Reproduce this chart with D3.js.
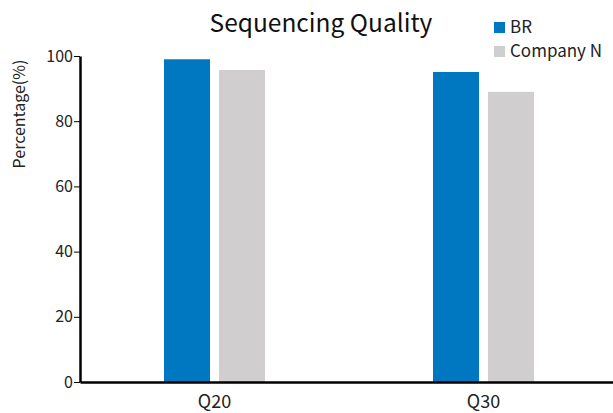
<!DOCTYPE html>
<html>
<head>
<meta charset="utf-8">
<script src="https://cdn.jsdelivr.net/npm/d3@7"></script>
<style>
  html, body { margin: 0; padding: 0; background: #fff; }
  svg { display: block; font-family: "Noto Sans CJK SC", "Noto Sans", sans-serif; }
</style>
</head>
<body>
<svg id="chart" width="613" height="413"></svg>
<script>
const categories = ["Q20", "Q30"];
const seriesNames = ["BR", "Company N"];
const brValues = [99.0, 95.1];
const companyNValues = [95.7, 89.0];
const yTicks = [0, 20, 40, 60, 80, 100];
const colors = ["#0077C1", "#D0CECE"];

const FONT = "'Noto Sans CJK SC', 'Noto Sans', sans-serif";
const svg = d3.select("#chart");

const x = d3.scaleBand().domain(categories).range([80, 618]).paddingInner(0);
const y = d3.scaleLinear().domain([0, 100]).range([382, 56]);

const barW = 46, gap = 9;
const series = [brValues, companyNValues];

// bars, one group per series
series.forEach((vals, si) => {
  svg.append("g")
    .selectAll("rect")
    .data(categories)
    .join("rect")
    .attr("x", d => x(d) + x.bandwidth() / 2 + (si === 0 ? -(barW + gap / 2) : gap / 2))
    .attr("y", (d, i) => y(vals[i]))
    .attr("width", barW)
    .attr("height", (d, i) => y(0) - y(vals[i]))
    .attr("fill", colors[si]);
});

// y axis
const yAxis = svg.append("g")
  .attr("transform", "translate(80,0)")
  .call(d3.axisLeft(y).tickValues(yTicks).tickSize(6).tickSizeOuter(0));
yAxis.select(".domain").attr("stroke", "#000").attr("stroke-width", 2.5);
yAxis.selectAll(".tick line").attr("stroke", "#000").attr("stroke-width", 1);
yAxis.selectAll(".tick text")
  .attr("x", -7)
  .attr("font-size", 16)
  .attr("fill", "#222")
  .style("font-family", FONT);

// x axis
const xAxis = svg.append("g")
  .attr("transform", "translate(0,382)")
  .call(d3.axisBottom(x).tickSize(0).tickSizeOuter(0));
xAxis.select(".domain").attr("stroke", "#000").attr("stroke-width", 2.5);
xAxis.selectAll(".tick text")
  .attr("y", 13)
  .attr("font-size", 18)
  .attr("fill", "#222")
  .style("font-family", FONT);

// y axis title
svg.append("text")
  .attr("transform", "translate(25,114) rotate(-90)")
  .attr("text-anchor", "middle")
  .attr("font-size", 16)
  .attr("fill", "#222")
  .text("Percentage(%)");

// title
svg.append("text")
  .attr("x", 321)
  .attr("y", 32)
  .attr("text-anchor", "middle")
  .attr("font-size", 24.5)
  .attr("fill", "#111")
  .text("Sequencing Quality");

// legend
const legend = svg.append("g").attr("transform", "translate(494,22)");
seriesNames.forEach((name, i) => {
  const row = legend.append("g").attr("transform", `translate(0,${i * 24})`);
  row.append("rect").attr("width", 11).attr("height", 11).attr("fill", colors[i]);
  row.append("text")
    .attr("x", 16)
    .attr("y", 5.5)
    .attr("dy", "0.35em")
    .attr("font-size", 17)
    .attr("fill", "#222")
    .text(name);
});
</script>
</body>
</html>
